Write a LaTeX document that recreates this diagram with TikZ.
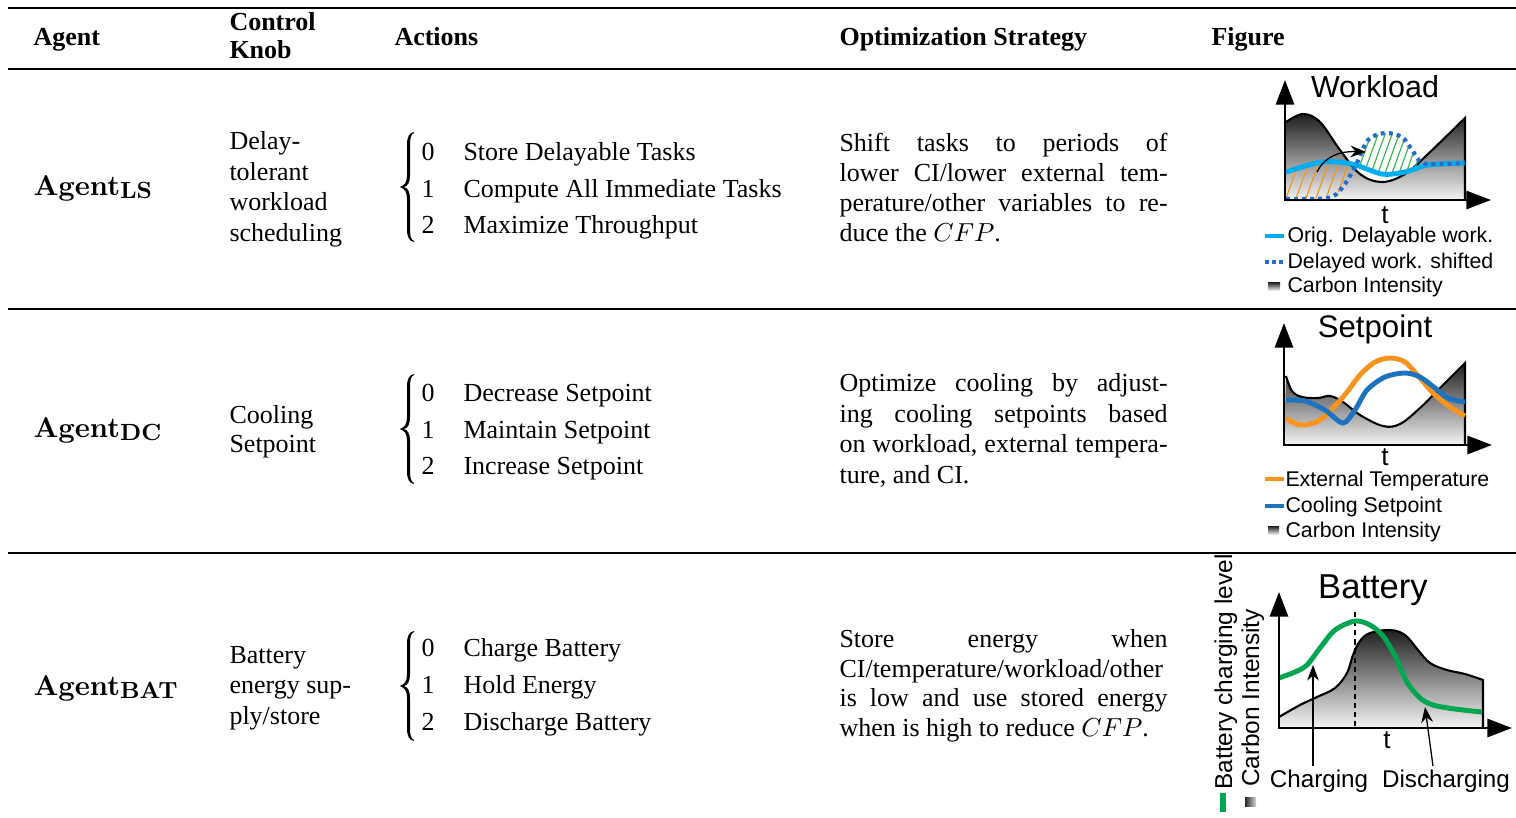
\documentclass[tikz,border=0pt]{standalone}
\usepackage{fontspec}
\setmainfont{Liberation Serif}
\newfontfamily\figsans{Liberation Sans}
\newfontfamily\lmroman{Latin Modern Roman}
\usetikzlibrary{arrows.meta}

\definecolor{cyanline}{RGB}{0,174,239}
\definecolor{dotblue}{RGB}{35,110,200}
\definecolor{hatchorange}{RGB}{247,148,30}
\definecolor{hatchgreen}{RGB}{60,180,75}
\definecolor{temporange}{RGB}{247,148,30}
\definecolor{setblue}{RGB}{30,115,190}
\definecolor{battgreen}{RGB}{0,166,81}

\newcommand\agentname[1]{{\lmroman\bfseries\fontsize{11}{13}\selectfont Agent}\raisebox{-1.3pt}{\lmroman\bfseries\fontsize{9}{11}\selectfont #1}}

\tikzset{
  txt/.style={anchor=base west, inner sep=0pt, font=\fontsize{10}{12}\selectfont},
  hdr/.style={txt, font=\fontsize{10}{12}\selectfont\bfseries},
  fig/.style={inner sep=0pt, font=\figsans\fontsize{#1}{#1}\selectfont},
  axes/.style={line width=1pt, {Triangle[length=9.5pt,width=7pt]}-{Triangle[length=9.5pt,width=7pt]}},
  ciarea/.style={top color=black!88, bottom color=black!4},
  cioutline/.style={line width=0.8pt, black},
  curve/.style={line width=1.9pt, #1},
  thinarrow/.style={line width=0.5pt, -{Stealth[length=6pt,width=4.5pt]}},
  rule/.style={line width=#1, black},
  % left curly brace grouping the three actions of a row
  actbrace/.pic={
    \fill (6,-55) .. controls (1,-54) and (-1,-50) .. (-1,-42) -- (-1,-12)
      .. controls (-1,-5) and (-3,-2) .. (-8,0)
      .. controls (-3,2) and (-1,5) .. (-1,12) -- (-1,42)
      .. controls (-1,50) and (1,54) .. (6,55) -- (6,54)
      .. controls (3,53) and (2,49) .. (2,42) -- (2,12)
      .. controls (2,5) and (0,1) .. (-4,0)
      .. controls (0,-1) and (2,-5) .. (2,-12) -- (2,-42)
      .. controls (2,-49) and (3,-53) .. (6,-54) -- cycle;
  },
}

\begin{document}
\begin{tikzpicture}[x=0.384615pt, y=-0.384615pt]
\useasboundingbox (0,0) rectangle (1516,818);

% ---------- table rules ----------
\draw[rule=0.9pt] (8,8) -- (1516,8);
\draw[rule=0.8pt] (8,69) -- (1516,69);
\draw[rule=0.55pt] (8,309) -- (1516,309);
\draw[rule=0.55pt] (8,553) -- (1516,553);

% ---------- header ----------
\node[hdr] (hagent) at (33,45) {Agent};
\node[hdr] (hknob1) at (229,30) {Control};
\node[hdr] (hknob2) at (229,58) {Knob};
\node[hdr] (hact) at (394,45) {Actions};
\node[hdr] (hstrat) at (839,45) {Optimization Strategy};
\node[hdr] (hfig) at (1211,45) {Figure};

% ---------- row 1: load shifting ----------
\node[txt] (agls) at (33,195) {\agentname{LS}};
\node[txt] (kls1) at (229,149) {Delay-};
\node[txt] (kls2) at (229,180) {tolerant};
\node[txt] (kls3) at (229,210) {workload};
\node[txt] (kls4) at (229,241) {scheduling};
\pic (brls) at (408,187) {actbrace};
\node[txt] (nls0) at (421,160) {0};
\node[txt] (nls1) at (421,197) {1};
\node[txt] (nls2) at (421,233) {2};
\node[txt] (als0) at (463,160) {Store Delayable Tasks};
\node[txt] (als1) at (463,197) {Compute All Immediate Tasks};
\node[txt] (als2) at (463,233) {Maximize Throughput};
\node[txt] (sls1) at (839,151) {\makebox[126.2pt][s]{Shift tasks to periods of}};
\node[txt] (sls2) at (839,181) {\makebox[126.2pt][s]{lower CI/lower external tem-}};
\node[txt] (sls3) at (839,211) {\makebox[126.2pt][s]{perature/other variables to re-}};
\node[txt] (sls4) at (839,241) {duce the $CFP$.};

% ---------- row 2: cooling ----------
\node[txt] (agdc) at (33,437) {\agentname{DC}};
\node[txt] (kdc1) at (229,423) {Cooling};
\node[txt] (kdc2) at (229,452) {Setpoint};
\pic (brdc) at (408,429) {actbrace};
\node[txt] (ndc0) at (421,401) {0};
\node[txt] (ndc1) at (421,438) {1};
\node[txt] (ndc2) at (421,474) {2};
\node[txt] (adc0) at (463,401) {Decrease Setpoint};
\node[txt] (adc1) at (463,438) {Maintain Setpoint};
\node[txt] (adc2) at (463,474) {Increase Setpoint};
\node[txt] (sdc1) at (839,391) {\makebox[126.2pt][s]{Optimize cooling by adjust-}};
\node[txt] (sdc2) at (839,422) {\makebox[126.2pt][s]{ing cooling setpoints based}};
\node[txt] (sdc3) at (839,452) {\makebox[126.2pt][s]{on workload, external tempera-}};
\node[txt] (sdc4) at (839,483) {ture, and CI.};

% ---------- row 3: battery ----------
\node[txt] (agbat) at (33,695) {\agentname{BAT}};
\node[txt] (kbat1) at (229,663) {Battery};
\node[txt] (kbat2) at (229,693) {energy sup-};
\node[txt] (kbat3) at (229,724) {ply/store};
\pic (brbat) at (408,686) {actbrace};
\node[txt] (nbat0) at (421,656) {0};
\node[txt] (nbat1) at (421,693) {1};
\node[txt] (nbat2) at (421,730) {2};
\node[txt] (abat0) at (463,656) {Charge Battery};
\node[txt] (abat1) at (463,693) {Hold Energy};
\node[txt] (abat2) at (463,730) {Discharge Battery};
\node[txt] (sbat1) at (839,647) {\makebox[126.2pt][s]{Store energy when}};
\node[txt] (sbat2) at (839,677) {\makebox[126.2pt][s]{CI/temperature/workload/other}};
\node[txt] (sbat3) at (839,706) {\makebox[126.2pt][s]{is low and use stored energy}};
\node[txt] (sbat4) at (839,736) {when is high to reduce $CFP$.};

% ================= Workload plot =================
\shade[ciarea] (1285,200) -- plot[smooth, tension=0.6] coordinates {(1286,122) (1303,114) (1320,122) (1340,150) (1360,174) (1382,182) (1405,174) (1428,154) (1465,118)} -- (1465,200) -- cycle;
\draw[cioutline] plot[smooth, tension=0.6] coordinates {(1286,122) (1303,114) (1320,122) (1340,150) (1360,174) (1382,182) (1405,174) (1428,154) (1465,118)} -- (1465,200);
% hatching: work taken away (orange) and work added later (green)
\begin{scope}
  \clip plot[smooth] coordinates {(1286,172) (1322,162) (1352,164) (1382,174) (1405,172) (1428,165) (1465,163)} -- (1465,215) -- (1286,215) -- cycle;
  \clip plot[smooth] coordinates {(1286,199) (1328,198) (1342,188) (1355,167) (1368,140) (1385,133) (1402,137) (1412,150) (1422,163) (1440,164) (1465,163)} -- (1465,90) -- (1286,90) -- cycle;
  \foreach \i in {1230,1240,...,1380} \draw[hatchorange, line width=0.45pt] (\i,215) -- ++(45,-125);
\end{scope}
\begin{scope}
  \clip plot[smooth] coordinates {(1286,172) (1322,162) (1352,164) (1382,174) (1405,172) (1428,165) (1465,163)} -- (1465,90) -- (1286,90) -- cycle;
  \clip plot[smooth] coordinates {(1286,199) (1328,198) (1342,188) (1355,167) (1368,140) (1385,133) (1402,137) (1412,150) (1422,163) (1440,164) (1465,163)} -- (1465,215) -- (1286,215) -- cycle;
  \foreach \i in {1300,1307,...,1440} \draw[hatchgreen, line width=0.45pt] (\i,215) -- ++(45,-125);
\end{scope}
\draw[curve=cyanline] plot[smooth] coordinates {(1286,172) (1322,162) (1352,164) (1382,174) (1405,172) (1428,165) (1465,163)};
\draw[dotblue, line width=1.6pt, dash pattern=on 1.5pt off 1.6pt] plot[smooth] coordinates {(1286,199) (1328,198) (1342,188) (1355,167) (1368,140) (1385,133) (1402,137) (1412,150) (1422,163) (1440,164) (1465,163)};
\coordinate (wlfrom) at (1317,172);
\coordinate (wlto) at (1366,152);
\draw[thinarrow] (wlfrom) .. controls (1325,156) and (1340,151) .. (wlto);
\draw[axes] (1285,80) -- (1285,200) -- (1491,200);
\node[fig=11.7, anchor=base] (wltitle) at (1375,97) {Workload};
\node[fig=10, anchor=base] (wlt) at (1385,223) {t};
\draw[curve=cyanline] (1265,236) -- (1284,236);
\node[fig=8.2, anchor=base west] (wlleg1) at (1287,242) {Orig. Delayable work.};
\draw[dotblue, line width=1.6pt, dash pattern=on 1.5pt off 1.2pt] (1265,262) -- (1285,262);
\node[fig=8.2, anchor=base west] (wlleg2) at (1287,268) {Delayed work. shifted};
\shade[top color=black!90, bottom color=black!10] (1268,282) rectangle (1280,290);
\node[fig=8.2, anchor=base west] (wlleg3) at (1287,292) {Carbon Intensity};

% ================= Setpoint plot =================
\shade[ciarea] (1284,445) -- plot[smooth, tension=0.6] coordinates {(1286,376) (1292,391) (1302,397) (1318,398) (1330,396) (1343,402) (1360,415) (1383,426) (1400,424) (1420,408) (1440,388) (1465,363)} -- (1465,445) -- cycle;
\draw[cioutline] plot[smooth, tension=0.6] coordinates {(1286,376) (1292,391) (1302,397) (1318,398) (1330,396) (1343,402) (1360,415) (1383,426) (1400,424) (1420,408) (1440,388) (1465,363)} -- (1465,445);
\draw[curve=temporange] plot[smooth] coordinates {(1286,418) (1300,425) (1320,420) (1343,397) (1360,375) (1375,362) (1390,358) (1405,362) (1420,378) (1433,393) (1450,407) (1465,416)};
\draw[curve=setblue] plot[smooth] coordinates {(1286,400) (1305,401) (1325,410) (1343,423) (1355,410) (1367,390) (1385,377) (1405,373) (1420,377) (1435,388) (1448,398) (1465,402)};
\draw[axes] (1284,323) -- (1284,445) -- (1492,445);
\node[fig=12, anchor=base] (sptitle) at (1375,337) {Setpoint};
\node[fig=10, anchor=base] (spt) at (1385,465) {t};
\draw[curve=temporange] (1265,479) -- (1284,479);
\node[fig=8.2, anchor=base west] (spleg1) at (1285,486) {External Temperature};
\draw[curve=setblue] (1265,506) -- (1284,506);
\node[fig=8.2, anchor=base west] (spleg2) at (1285,512) {Cooling Setpoint};
\shade[top color=black!90, bottom color=black!10] (1268,526) rectangle (1279,534);
\node[fig=8.2, anchor=base west] (spleg3) at (1285,537) {Carbon Intensity};

% ================= Battery plot =================
\shade[ciarea] (1279,728) -- plot[smooth, tension=0.6] coordinates {(1279,717) (1300,705) (1317,697) (1335,688) (1347,673) (1353,655) (1360,641) (1370,633) (1390,630) (1405,635) (1418,650) (1430,663) (1447,670) (1465,674) (1483,680)} -- (1483,728) -- cycle;
\draw[cioutline] plot[smooth, tension=0.6] coordinates {(1279,717) (1300,705) (1317,697) (1335,688) (1347,673) (1353,655) (1360,641) (1370,633) (1390,630) (1405,635) (1418,650) (1430,663) (1447,670) (1465,674) (1483,680)} -- (1483,728);
\draw[black, line width=0.4pt, dash pattern=on 2pt off 1.5pt] (1355,612) -- (1355,728);
\draw[curve=battgreen] plot[smooth] coordinates {(1279,678) (1295,672) (1307,665) (1320,648) (1335,630) (1355,621) (1370,625) (1383,636) (1395,656) (1407,682) (1420,698) (1433,705) (1455,709) (1482,712)};
\draw[axes] (1279,592) -- (1279,728) -- (1512,728);
\node[fig=13.3, anchor=base] (battitle) at (1373,598) {Battery};
\node[fig=10, anchor=base] (battt) at (1387,748) {t};
\node[fig=9.3, anchor=base] (charge) at (1319,787) {Charging};
\node[fig=9.3, anchor=base] (discharge) at (1446,787) {Discharging};
\coordinate (chgtip) at (1313,665);
\coordinate (dchtip) at (1425,707);
\draw[thinarrow] (1313,766) -- (chgtip);
\draw[thinarrow] (1433,766) -- (dchtip);
\node[fig=9.4, anchor=base, rotate=90] (battlev) at (1232,672) {Battery charging level};
\node[fig=9.4, anchor=base, rotate=90] (battci) at (1259,698) {Carbon Intensity};
\draw[battgreen, line width=2.3pt] (1223,793) -- (1223,812);
\shade[left color=black!85, right color=black!15] (1245,797) rectangle (1256,806);

\end{tikzpicture}
\end{document}
